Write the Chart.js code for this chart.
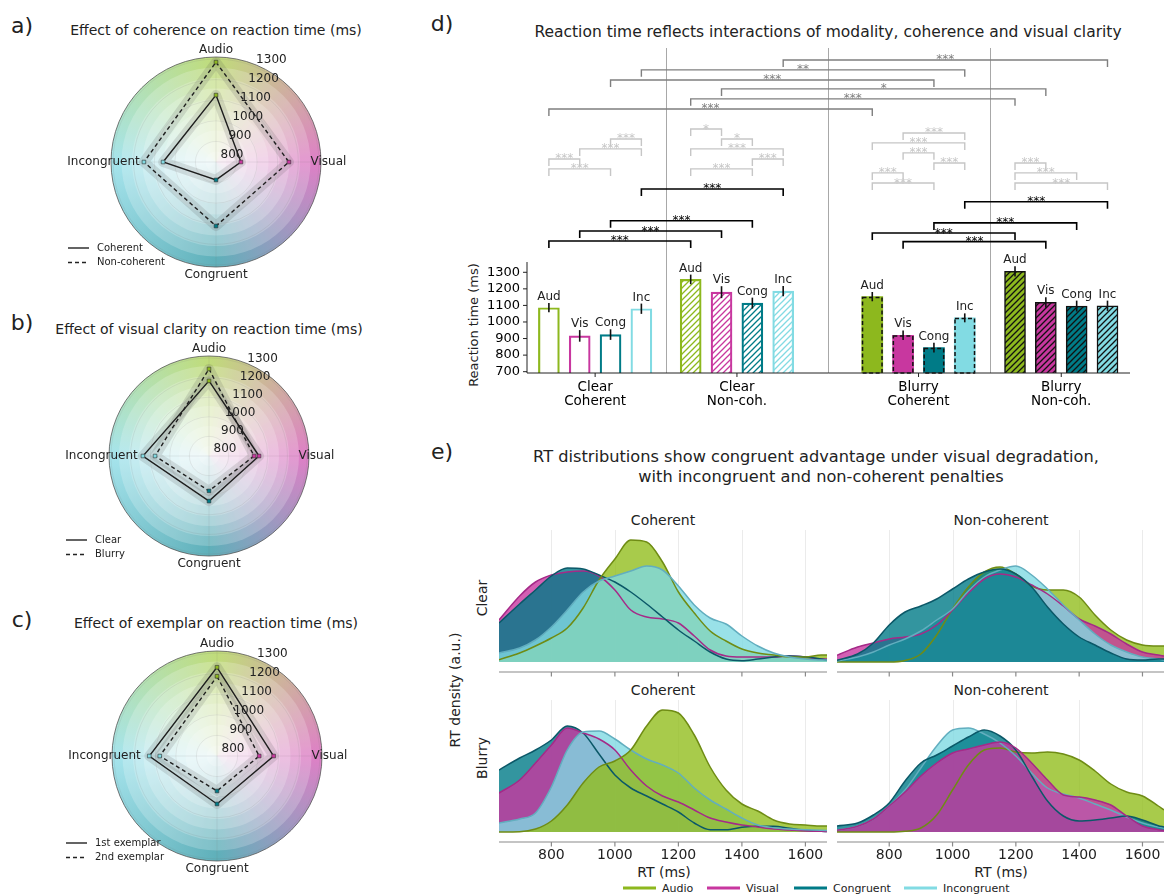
<!DOCTYPE html>
<html>
<head>
<meta charset="utf-8">
<title>Reaction time figure</title>
<script src="https://cdn.jsdelivr.net/npm/chart.js@4.4.1/dist/chart.umd.min.js"></script>
<style>
  html, body { margin: 0; padding: 0; background: #fff; }
  body { position: relative; width: 1164px; height: 895px; overflow: hidden; font-family: 'DejaVu Sans', sans-serif; color: #222; }
  canvas { position: absolute; }
  .t { position: absolute; white-space: nowrap; transform: translate(-50%, -50%); line-height: 1; }
  .rot { transform: translate(-50%, -50%) rotate(-90deg); }
  .tag { font-size: 22px; }
  .key { position: absolute; transform: translateY(-50%); font-size: 11px; display: flex; align-items: center; white-space: nowrap; }
  .key i { display: inline-block; width: 33px; height: 3px; margin-right: 6px; }
</style>
</head>
<body>
<!-- panel letters and titles -->
<div class="t tag" style="left:22px;top:26px">a)</div>
<div class="t tag" style="left:22px;top:323px">b)</div>
<div class="t tag" style="left:22px;top:620px">c)</div>
<div class="t tag" style="left:442px;top:24px">d)</div>
<div class="t tag" style="left:442px;top:452px">e)</div>

<div class="t" style="left:216px;top:30px;font-size:14px">Effect of coherence on reaction time (ms)</div>
<div class="t" style="left:209px;top:329px;font-size:14px">Effect of visual clarity on reaction time (ms)</div>
<div class="t" style="left:216px;top:623px;font-size:14px">Effect of exemplar on reaction time (ms)</div>

<div class="t" style="left:828px;top:33px;font-size:15.5px">Reaction time reflects interactions of modality, coherence and visual clarity</div>
<div class="t rot" style="left:473px;top:325px;font-size:13px">Reaction time (ms)</div>

<div class="t" style="left:816px;top:457px;font-size:16.2px">RT distributions show congruent advantage under visual degradation,</div>
<div class="t" style="left:821px;top:477px;font-size:16.2px">with incongruent and non-coherent penalties</div>

<div class="t" style="left:663px;top:520px;font-size:14px">Coherent</div>
<div class="t" style="left:1001px;top:520px;font-size:14px">Non-coherent</div>
<div class="t" style="left:663px;top:690px;font-size:14px">Coherent</div>
<div class="t" style="left:1001px;top:690px;font-size:14px">Non-coherent</div>
<div class="t rot" style="left:482px;top:598px;font-size:14px">Clear</div>
<div class="t rot" style="left:482px;top:758px;font-size:14px">Blurry</div>
<div class="t rot" style="left:455px;top:690px;font-size:14px">RT density (a.u.)</div>
<div class="t" style="left:664px;top:872px;font-size:14px">RT (ms)</div>
<div class="t" style="left:1001px;top:872px;font-size:14px">RT (ms)</div>

<div class="key" style="left:623px;top:888px"><i style="background:#8db81e"></i>Audio</div>
<div class="key" style="left:707px;top:888px"><i style="background:#c8379f"></i>Visual</div>
<div class="key" style="left:794px;top:888px"><i style="background:#007b87"></i>Congruent</div>
<div class="key" style="left:904px;top:888px"><i style="background:#82dbe3"></i>Incongruent</div>

<canvas id="radarA" width="430" height="300" style="left:0;top:0"></canvas>
<canvas id="radarB" width="430" height="290" style="left:0;top:300px"></canvas>
<canvas id="radarC" width="430" height="305" style="left:0;top:590px"></canvas>
<canvas id="bars" width="734" height="420" style="left:430px;top:0"></canvas>
<canvas id="kdeClearCoh" width="340" height="175" style="left:489px;top:505px"></canvas>
<canvas id="kdeClearNon" width="337" height="175" style="left:827px;top:505px"></canvas>
<canvas id="kdeBlurryCoh" width="340" height="215" style="left:489px;top:680px"></canvas>
<canvas id="kdeBlurryNon" width="337" height="215" style="left:827px;top:680px"></canvas>

<script>
// ---- radar panels (a-c): mean RT per axis ----
const radarAxes = ['Audio', 'Visual', 'Congruent', 'Incongruent'];
const radarTicks = [800, 900, 1000, 1100, 1200, 1300];
const coherentRT = [1125, 921, 887, 1057];
const nonCoherentRT = [1285, 1154, 1111, 1150];
const clearRT = [1183, 1055, 1030, 1137];
const blurryRT = [1244, 1030, 978, 1075];
const exemplar1RT = [1231, 1075, 1033, 1129];
const exemplar2RT = [1187, 1005, 970, 1078];

// ---- bar panel (d) ----
const barLabels = ['Aud', 'Vis', 'Cong', 'Inc'];
const groupNames = [['Clear', 'Coherent'], ['Clear', 'Non-coh.'], ['Blurry', 'Coherent'], ['Blurry', 'Non-coh.']];
const rtClearCoh = [1086, 916, 924, 1080];
const rtClearNon = [1257, 1180, 1114, 1186];
const rtBlurryCoh = [1153, 920, 845, 1025];
const rtBlurryNon = [1306, 1118, 1096, 1098];
const semClearCoh = [28, 35, 32, 31];
const semClearNon = [29, 36, 33, 31];
const semBlurryCoh = [28, 29, 29, 27];
const semBlurryNon = [31, 32, 33, 31];
const barSlots = [0, 1, 2, 3, 4.6, 5.6, 6.6, 7.6, 10.49, 11.49, 12.49, 13.49, 15.12, 16.12, 17.12, 18.12];
const groupSeparators = [3.8, 9.045, 14.31];
const yTicksRT = [700, 800, 900, 1000, 1100, 1200, 1300];
// brackets: [bar i, bar j, level (ms), stars]
const farBrackets = [
  [7, 15, 2582, '***'], [3, 11, 2522, '**'], [2, 10, 2461, '***'],
  [5, 13, 2407, '*'], [4, 12, 2347, '***'], [0, 8, 2286, '***']
];
const withinBrackets = [
  [2, 3, 2105, '***'], [1, 3, 2045, '***'], [0, 1, 1984, '***'], [0, 2, 1924, '***'],
  [4, 5, 2165, '*'], [5, 6, 2105, '*'], [4, 7, 2045, '***'], [6, 7, 1984, '***'], [4, 6, 1924, '***'],
  [9, 11, 2141, '***'], [8, 11, 2081, '***'], [9, 10, 2021, '***'], [10, 11, 1960, '***'], [8, 9, 1900, '***'], [8, 10, 1839, '***'],
  [12, 13, 1960, '***'], [12, 14, 1900, '***'], [12, 15, 1839, '***']
];
const nearBrackets = [
  [3, 7, 1803, '***'], [2, 6, 1611, '***'], [1, 5, 1549, '***'], [0, 4, 1489, '***'],
  [11, 15, 1726, '***'], [10, 14, 1598, '***'], [8, 12, 1537, '***'], [9, 13, 1485, '***']
];

// ---- density panels (e): RT grid and KDE heights (a.u.) ----
const rtGrid = [635, 700, 750, 800, 850, 900, 950, 1000, 1050, 1100, 1150, 1200, 1250, 1300, 1350, 1400, 1450, 1500, 1550, 1600, 1650, 1668];
const rtTicks = [800, 1000, 1200, 1400, 1600];
const clearCohAudio = [2.3, 9, 16, 24, 34, 54, 82, 103, 122, 120, 100, 70, 49, 31, 21, 13, 9, 7, 5, 5, 7, 7];
const clearCohVisual = [42, 66, 80, 87, 90, 91, 86, 72, 52, 45, 43, 39, 26, 12, 6, 5, 5, 5, 6, 5, 3, 3];
const clearCohCong = [39, 58, 72, 86, 94, 93, 87, 80, 70, 58, 45, 32, 21, 10, 3, 1.3, 3, 5, 6, 5, 3, 2];
const clearCohInc = [9, 14, 22, 35, 52, 70, 81, 86, 91, 96, 92, 76, 57, 44, 38, 26, 16, 9, 5, 3, 2, 2];
const clearNonAudio = [0, 0, 0, 0, 1.5, 8, 27, 53, 75, 90, 95, 88, 76, 72, 72, 65, 47, 32, 22, 17, 16, 16];
const clearNonVisual = [6.7, 15, 19, 23, 25, 28, 37, 52, 69, 83, 88, 85, 77, 68, 56, 43, 36, 28, 18, 10, 7, 6];
const clearNonCong = [1.7, 8, 19, 37, 50, 56, 63, 73, 83, 90, 93, 88, 75, 55, 38, 25, 17, 9, 3, 2, 3, 3];
const clearNonInc = [1, 5, 10, 17, 23, 31, 42, 53, 71, 85, 92, 96, 87, 73, 57, 42, 28, 17, 10, 5, 3, 2];
const blurryCohAudio = [0, 0.3, 3, 11, 27, 49, 65, 71, 82, 106, 122, 119, 97, 65, 42, 28, 21, 12, 8, 7, 6, 6];
const blurryCohVisual = [39, 52, 69, 87, 104, 99, 93, 82, 62, 46, 36, 30, 22, 14, 10, 7, 5, 3, 2, 1, 0.7, 0.5];
const blurryCohCong = [62, 74, 82, 92, 106, 99, 78, 57, 44, 36, 28, 20, 9, 2.3, 2.3, 4.7, 5.7, 5.7, 3.7, 1.7, 0.7, 0.5];
const blurryCohInc = [9, 13, 19, 45, 82, 100, 101, 93, 82, 73, 67, 59, 44, 32, 23, 14, 7, 4.3, 3, 2.3, 1.7, 1.5];
const blurryNonAudio = [0, 0, 0, 0, 0.7, 4, 17, 42, 67, 82, 84, 80, 79, 80, 78, 72, 61, 48, 40, 36, 26, 22];
const blurryNonVisual = [1.7, 5.7, 13, 26, 40, 56, 69, 79, 83, 87, 90, 84, 69, 52, 37, 35, 32, 27, 16, 6, 2.3, 1.5];
const blurryNonCong = [6, 9, 17, 29, 51, 69, 77, 86, 95, 102, 96, 82, 56, 31, 16, 11, 12, 14, 16, 12, 6.3, 5];
const blurryNonInc = [1.7, 5.7, 13, 26, 42, 64, 86, 102, 104, 98, 89, 76, 59, 44, 38, 34, 28, 22, 15, 9, 5, 4];

// ---- colours ----
const modalityColors = ['#8db81e', '#c8379f', '#007b87', '#82dbe3'];
const kdeFill = ['rgba(146,190,30,0.8)', 'rgba(200,55,160,0.8)', 'rgba(0,123,135,0.8)', 'rgba(127,217,226,0.8)'];
const kdeLine = ['#6f8c14', '#a52a88', '#0b5868', '#62aebf'];
const rimStops = [[0, '#c0dc7a'], [0.25, '#de80c6'], [0.5, '#5fb0ba'], [0.75, '#a6e4ec'], [1, '#c0dc7a']];

Chart.defaults.font.family = "'DejaVu Sans', sans-serif";
Chart.defaults.color = '#222';

function seg(ctx, x1, y1, x2, y2) {
    ctx.beginPath();
    ctx.moveTo(x1, y1);
    ctx.lineTo(x2, y2);
    ctx.stroke();
}

// 雷达图背景、刻度、轴标签和图例
const radarDecor = {
    id: 'radarDecor',
    beforeDatasetsDraw(chart) {
        const s = chart.scales.r, ctx = chart.ctx;
        const cx = s.xCenter, cy = s.yCenter, R = s.drawingArea;
        ctx.save();
        const g = ctx.createConicGradient(-Math.PI / 2, cx, cy);
        rimStops.forEach(([p, c]) => g.addColorStop(p, c));
        ctx.beginPath();
        ctx.arc(cx, cy, R, 0, Math.PI * 2);
        ctx.fillStyle = g;
        ctx.fill();
        for (let k = 1; k < 10; k++) {
            ctx.beginPath();
            ctx.arc(cx, cy, R * (1 - k / 10), 0, Math.PI * 2);
            ctx.fillStyle = 'rgba(255,255,255,0.2)';
            ctx.fill();
        }
        ctx.strokeStyle = 'rgba(110,110,110,0.16)';
        ctx.lineWidth = 0.8;
        radarTicks.forEach(v => {
            ctx.beginPath();
            ctx.arc(cx, cy, s.getDistanceFromCenterForValue(v), 0, Math.PI * 2);
            ctx.stroke();
        });
        radarAxes.forEach((_, i) => {
            const p = s.getPointPosition(i, R);
            seg(ctx, cx, cy, p.x, p.y);
        });
        ctx.strokeStyle = '#555';
        ctx.lineWidth = 0.8;
        ctx.beginPath();
        ctx.arc(cx, cy, R, 0, Math.PI * 2);
        ctx.stroke();
        ctx.restore();
    },
    afterDraw(chart, args, opts) {
        const s = chart.scales.r, ctx = chart.ctx, R = s.drawingArea;
        ctx.save();
        ctx.fillStyle = '#222';
        ctx.textAlign = 'center';
        ctx.textBaseline = 'middle';
        ctx.font = '12px "DejaVu Sans"';
        const ang = 22.5 * Math.PI / 180;
        radarTicks.forEach(v => {
            const d = s.getDistanceFromCenterForValue(v);
            ctx.fillText(String(v), s.xCenter + d * Math.sin(ang) + 16, s.yCenter - d * Math.cos(ang) - 7);
        });
        radarAxes.forEach((name, i) => {
            const p = s.getPointPosition(i, R + 7.5);
            ctx.fillText(name, p.x, p.y);
        });
        ctx.font = '10px "DejaVu Sans"';
        ctx.textAlign = 'left';
        ctx.strokeStyle = '#222';
        ctx.lineWidth = 1.4;
        opts.names.forEach((n, k) => {
            const lx = s.xCenter + opts.legendAt.x, ly = s.yCenter + opts.legendAt.y + k * 14.5;
            ctx.setLineDash(k ? [4, 3] : []);
            seg(ctx, lx, ly, lx + 21, ly);
            ctx.setLineDash([]);
            ctx.fillText(n, lx + 29, ly);
        });
        ctx.restore();
    }
};

function radarSeries(values, dash) {
    return [{
        data: values,
        borderColor: 'rgba(80,80,80,0.16)',
        borderWidth: 10,
        borderJoinStyle: 'round',
        pointRadius: 0,
        fill: false,
        order: 3
    }, {
        data: values,
        borderColor: '#1e1e1e',
        borderWidth: 1.4,
        borderDash: dash,
        fill: false,
        order: 1,
        pointStyle: 'rect',
        pointRadius: 2.6,
        pointBackgroundColor: modalityColors,
        pointBorderColor: '#333',
        pointBorderWidth: 0.6
    }];
}

function makeRadar(id, solid, dashed, names, pad, legendAt) {
    return new Chart(document.getElementById(id), {
        type: 'radar',
        data: {
            labels: radarAxes,
            datasets: [...radarSeries(solid, []), ...radarSeries(dashed, [4, 3])]
        },
        options: {
            responsive: false,
            animation: false,
            layout: { padding: pad },
            plugins: {
                legend: { display: false },
                tooltip: { enabled: false },
                radarDecor: { names, legendAt }
            },
            scales: {
                r: {
                    min: 800,
                    max: 1310,
                    ticks: { display: false, stepSize: 100 },
                    pointLabels: { display: false },
                    grid: { display: false },
                    angleLines: { display: false }
                }
            }
        },
        plugins: [radarDecor]
    });
}

makeRadar('radarA', coherentRT, nonCoherentRT, ['Coherent', 'Non-coherent'],
    { left: 111, right: 109, top: 57, bottom: 33 }, { x: -148, y: 86 });
makeRadar('radarB', clearRT, blurryRT, ['Clear', 'Blurry'],
    { left: 109, right: 121, top: 56, bottom: 34 }, { x: -143, y: 84 });
makeRadar('radarC', exemplar1RT, exemplar2RT, ['1st exemplar', '2nd exemplar'],
    { left: 112, right: 108, top: 61, bottom: 34 }, { x: -151, y: 87 });

// ---- bar chart (d) ----
function hatch(bg, fg, lw) {
    const size = 6;
    const c = document.createElement('canvas');
    c.width = size;
    c.height = size;
    const g = c.getContext('2d');
    g.fillStyle = bg;
    g.fillRect(0, 0, size, size);
    g.strokeStyle = fg;
    g.lineWidth = lw;
    g.beginPath();
    g.moveTo(0, size); g.lineTo(size, 0);
    g.moveTo(-size / 2, size / 2); g.lineTo(size / 2, -size / 2);
    g.moveTo(size / 2, size * 1.5); g.lineTo(size * 1.5, size / 2);
    g.stroke();
    return g.createPattern(c, 'repeat');
}

const groupRT = [rtClearCoh, rtClearNon, rtBlurryCoh, rtBlurryNon];
const groupSem = [semClearCoh, semClearNon, semBlurryCoh, semBlurryNon];
const groupStyle = [
    { backgroundColor: '#ffffff', borderColor: modalityColors, borderWidth: 2.2 },
    { backgroundColor: modalityColors.map(c => hatch('#ffffff', c, 1.3)), borderColor: modalityColors, borderWidth: 2.2 },
    { backgroundColor: modalityColors, borderWidth: 0 },
    { backgroundColor: modalityColors.map(c => hatch(c, '#111111', 1.3)), borderColor: '#111111', borderWidth: 1.5 }
];

function drawBrackets(ctx, x, y, list, color, width) {
    ctx.strokeStyle = color;
    ctx.fillStyle = color;
    ctx.lineWidth = width;
    list.forEach(([i, j, level, stars]) => {
        const x1 = x.getPixelForValue(barSlots[i]);
        const x2 = x.getPixelForValue(barSlots[j]);
        const py = y.getPixelForValue(level);
        ctx.beginPath();
        ctx.moveTo(x1, py + 7);
        ctx.lineTo(x1, py);
        ctx.lineTo(x2, py);
        ctx.lineTo(x2, py + 7);
        ctx.stroke();
        ctx.fillText(stars, (x1 + x2) / 2, py + 3.5);
    });
}

const barDecor = {
    id: 'barDecor',
    beforeDraw(chart) {
        const { ctx, chartArea: a, scales: { x } } = chart;
        ctx.save();
        ctx.strokeStyle = '#a8a8a8';
        ctx.lineWidth = 1;
        groupSeparators.forEach(s => {
            const px = Math.round(x.getPixelForValue(s)) + 0.5;
            seg(ctx, px, a.top, px, a.bottom);
        });
        ctx.restore();
    },
    afterDatasetsDraw(chart) {
        const { ctx, chartArea: a, scales: { x, y } } = chart;
        ctx.save();
        // 模糊-一致组的虚线边框
        ctx.strokeStyle = '#111';
        ctx.lineWidth = 1.5;
        ctx.setLineDash([4, 2.5]);
        chart.getDatasetMeta(2).data.forEach(bar => {
            const p = bar.getProps(['x', 'y', 'base', 'width'], true);
            const bottom = Math.min(p.base, a.bottom);
            ctx.strokeRect(p.x - p.width / 2 + 0.75, p.y + 0.75, p.width - 1.5, bottom - p.y - 0.75);
        });
        ctx.setLineDash([]);
        // 误差线和柱标签
        ctx.font = '12px "DejaVu Sans"';
        ctx.textAlign = 'center';
        ctx.textBaseline = 'alphabetic';
        ctx.fillStyle = '#222';
        groupRT.forEach((vals, gi) => vals.forEach((v, k) => {
            const px = x.getPixelForValue(barSlots[gi * 4 + k]);
            const top = y.getPixelForValue(v + groupSem[gi][k]);
            const bot = y.getPixelForValue(v - groupSem[gi][k]);
            ctx.strokeStyle = '#111';
            ctx.lineWidth = 1.6;
            seg(ctx, px, top, px, bot);
            ctx.fillText(barLabels[k], px, top - 3);
        }));
        // 显著性括号
        ctx.font = '12px "DejaVu Sans"';
        drawBrackets(ctx, x, y, farBrackets, '#7f7f7f', 1.4);
        drawBrackets(ctx, x, y, withinBrackets, '#c6c6c6', 1.4);
        drawBrackets(ctx, x, y, nearBrackets, '#000000', 1.6);
        // 坐标轴
        ctx.strokeStyle = '#222';
        ctx.lineWidth = 1;
        seg(ctx, a.left, y.getPixelForValue(1362), a.left, a.bottom);
        seg(ctx, a.left, a.bottom, a.right, a.bottom);
        ctx.font = '13px "DejaVu Sans"';
        ctx.textAlign = 'right';
        ctx.textBaseline = 'middle';
        yTicksRT.forEach(v => {
            const py = y.getPixelForValue(v);
            seg(ctx, a.left - 4, py, a.left, py);
            ctx.fillText(String(v), a.left - 7, py);
        });
        ctx.font = '13.5px "DejaVu Sans"';
        ctx.textAlign = 'center';
        groupNames.forEach((g, gi) => {
            const slots = barSlots.slice(gi * 4, gi * 4 + 4);
            const cx = x.getPixelForValue(slots.reduce((s, v) => s + v, 0) / 4);
            seg(ctx, cx, a.bottom, cx, a.bottom + 4);
            ctx.fillText(g[0], cx, a.bottom + 14);
            ctx.fillText(g[1], cx, a.bottom + 28.5);
        });
        ctx.restore();
    }
};

new Chart(document.getElementById('bars'), {
    type: 'bar',
    data: {
        datasets: groupRT.map((vals, gi) => Object.assign({
            data: vals.map((v, k) => ({ x: barSlots[gi * 4 + k], y: v }))
        }, groupStyle[gi]))
    },
    options: {
        responsive: false,
        animation: false,
        layout: { padding: { left: 97, right: 34, top: 48, bottom: 47 } },
        plugins: { legend: { display: false }, tooltip: { enabled: false } },
        datasets: { bar: { barThickness: 21, grouped: false, borderSkipped: false } },
        scales: {
            x: { type: 'linear', display: false, offset: false, min: -0.71, max: 18.85 },
            y: { display: false, min: 692, max: 2654 }
        }
    },
    plugins: [barDecor]
});

// ---- density charts (e) ----
const rtAxes = {
    id: 'rtAxes',
    beforeDraw(chart) {
        const { ctx, chartArea: a, scales: { x, y } } = chart;
        ctx.save();
        ctx.strokeStyle = '#ebebeb';
        ctx.lineWidth = 1;
        rtTicks.forEach(t => {
            const px = Math.round(x.getPixelForValue(t)) + 0.5;
            seg(ctx, px, a.top, px, y.getPixelForValue(0));
        });
        ctx.restore();
    },
    afterDraw(chart, args, opts) {
        const { ctx, chartArea: a, scales: { x } } = chart;
        ctx.save();
        ctx.strokeStyle = '#8a8a8a';
        ctx.lineWidth = 1.2;
        seg(ctx, a.left, a.bottom, a.right, a.bottom);
        ctx.font = '14px "DejaVu Sans"';
        ctx.fillStyle = '#222';
        ctx.textAlign = 'center';
        ctx.textBaseline = 'middle';
        rtTicks.forEach(t => {
            const px = x.getPixelForValue(t);
            seg(ctx, px, a.bottom, px, a.bottom + 4.5);
            if (opts.labels) ctx.fillText(String(t), px, a.bottom + 13);
        });
        ctx.restore();
    }
};

function makeDensity(id, series, order, pad, labels) {
    return new Chart(document.getElementById(id), {
        type: 'line',
        data: {
            datasets: series.map((vals, k) => ({
                label: radarAxes[k],
                data: vals.map((v, i) => ({ x: rtGrid[i], y: v })),
                borderColor: kdeLine[k],
                backgroundColor: kdeFill[k],
                borderWidth: 1.5,
                fill: 'origin',
                pointRadius: 0,
                cubicInterpolationMode: 'monotone',
                order: order[k]
            }))
        },
        options: {
            responsive: false,
            animation: false,
            layout: { padding: pad },
            plugins: {
                legend: { display: false },
                tooltip: { enabled: false },
                filler: { drawTime: 'beforeDatasetsDraw' },
                rtAxes: { labels }
            },
            scales: {
                x: { type: 'linear', display: false, min: 635, max: 1668 },
                y: { display: false, min: -10, max: 132 }
            }
        },
        plugins: [rtAxes]
    });
}

makeDensity('kdeClearCoh', [clearCohAudio, clearCohVisual, clearCohCong, clearCohInc], [2, 4, 3, 1],
    { left: 10, right: 2, top: 25, bottom: 8 }, false);
makeDensity('kdeClearNon', [clearNonAudio, clearNonVisual, clearNonCong, clearNonInc], [4, 3, 1, 2],
    { left: 10, right: 0, top: 25, bottom: 8 }, false);
makeDensity('kdeBlurryCoh', [blurryCohAudio, blurryCohVisual, blurryCohCong, blurryCohInc], [1, 3, 4, 2],
    { left: 10, right: 2, top: 20, bottom: 53 }, true);
makeDensity('kdeBlurryNon', [blurryNonAudio, blurryNonVisual, blurryNonCong, blurryNonInc], [4, 1, 2, 3],
    { left: 10, right: 0, top: 20, bottom: 53 }, true);
</script>
</body>
</html>
